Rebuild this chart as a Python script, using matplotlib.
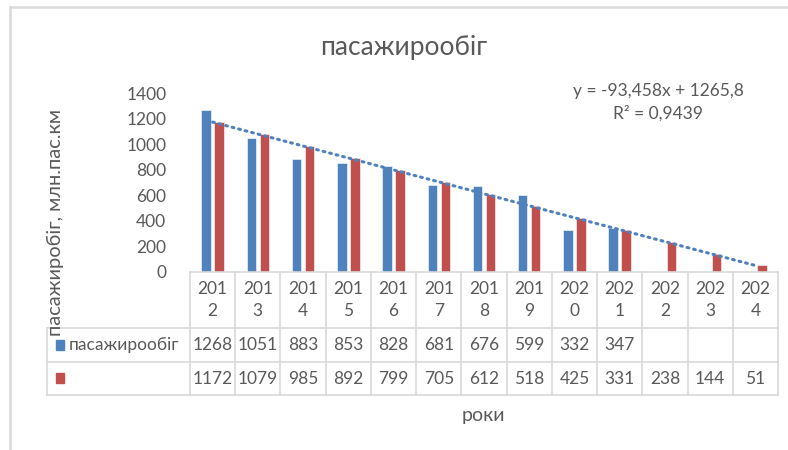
import numpy as np
import matplotlib.pyplot as plt
from matplotlib.lines import Line2D
from matplotlib.patches import Rectangle

plt.rcParams['font.family'] = ['Lato', 'DejaVu Sans']

years = ['2012', '2013', '2014', '2015', '2016', '2017', '2018',
         '2019', '2020', '2021', '2022', '2023', '2024']
actual = [1268, 1051, 883, 853, 828, 681, 676, 599, 332, 347]
forecast = [1172, 1079, 985, 892, 799, 705, 612, 518, 425, 331, 238, 144, 51]
series_name = 'пасажирообіг'
slope, intercept, r2 = -93.458, 1265.8, 0.9439

BLUE = '#4F81BD'
RED = '#C0504D'
TXT = '#595959'
GRID = '#D9D9D9'

W, H = 788, 450
fig = plt.figure(figsize=(W / 100, H / 100), dpi=100)

def fx(px):
    return px / W

def fy(py):
    return 1 - py / H

# chart frame (left and top edges visible)
fig.add_artist(Line2D([fx(9.5), fx(9.5)], [fy(6.5), 0], color=GRID, lw=1.8))
fig.add_artist(Line2D([fx(9.5), 1], [fy(6.5), fy(6.5)], color=GRID, lw=1.8))

left, right, top, bottom = 190, 778, 93, 272
ax = fig.add_axes([fx(left), fy(bottom), fx(right - left), (bottom - top) / H])

n = len(years)
x = np.arange(1, n + 1)
bw = 0.21
off = 0.144
ax.bar(x[:len(actual)] - off, actual, bw, color=BLUE, edgecolor='white', linewidth=0.4)
ax.bar(x + off, forecast, bw, color=RED, edgecolor='white', linewidth=0.4)

# linear trendline of the series
ax.plot([x[0], x[-1]], [slope * x[0] + intercept, slope * x[-1] + intercept],
        color=BLUE, lw=2.2, linestyle=(0, (0.6, 1.6)), dash_capstyle='round')

ax.set_xlim(0.5, n + 0.5)
ax.set_ylim(0, 1400)
ax.set_yticks(range(0, 1401, 200))
ax.set_xticks([])
for s in ax.spines.values():
    s.set_visible(False)
ax.tick_params(axis='y', length=0, labelsize=12.5, labelcolor=TXT, pad=17)

fs = 12.5
eq = f'y = {slope:.3f}x + {intercept:.1f}'.replace('.', ',')
fig.text(fx(658), fy(91), eq, ha='center', va='center', fontsize=fs, color=TXT)
fig.text(fx(658), fy(113), f'R² = {r2:.4f}'.replace('.', ','), ha='center', va='center',
         fontsize=fs, color=TXT)

fig.text(fx(404), fy(47), series_name, ha='center', va='center', fontsize=19, color=TXT)
fig.text(fx(483), fy(415), 'роки', ha='center', va='center', fontsize=14, color=TXT)
fig.text(fx(55), fy(222), 'пасажиробіг, млн.пас.км', ha='center', va='center',
         rotation=90, fontsize=14.5, color=TXT)

# data table under the axis
cell_w = (right - left) / n
rows = [272, 328, 362, 395]
tl = dict(color=GRID, lw=1.2)
fig.add_artist(Line2D([fx(left), fx(right)], [fy(rows[0])] * 2, **tl))
for r in rows[1:]:
    fig.add_artist(Line2D([fx(47), fx(right)], [fy(r)] * 2, **tl))
fig.add_artist(Line2D([fx(47), fx(47)], [fy(rows[1]), fy(rows[3])], **tl))
for i in range(n + 1):
    xp = left + i * cell_w
    fig.add_artist(Line2D([fx(xp)] * 2, [fy(rows[0]), fy(rows[3])], **tl))

for i, yr in enumerate(years):
    cx = left + (i + 0.5) * cell_w
    fig.text(fx(cx), fy(300), yr[:3] + '\n' + yr[3:], ha='center', va='center',
             fontsize=fs, color=TXT, linespacing=1.4)
    if i < len(actual):
        fig.text(fx(cx), fy(345), str(actual[i]), ha='center', va='center',
                 fontsize=fs, color=TXT)
    fig.text(fx(cx), fy(378.5), str(forecast[i]), ha='center', va='center',
             fontsize=fs, color=TXT)

fig.add_artist(Rectangle((fx(56), fy(350)), fx(7.5), 10 / H, color=BLUE))
fig.add_artist(Rectangle((fx(56), fy(383)), fx(7.5), 10 / H, color=RED))
fig.text(fx(69), fy(345), series_name, ha='left', va='center', fontsize=fs, color=TXT)

fig.savefig('out.png', dpi=100)
